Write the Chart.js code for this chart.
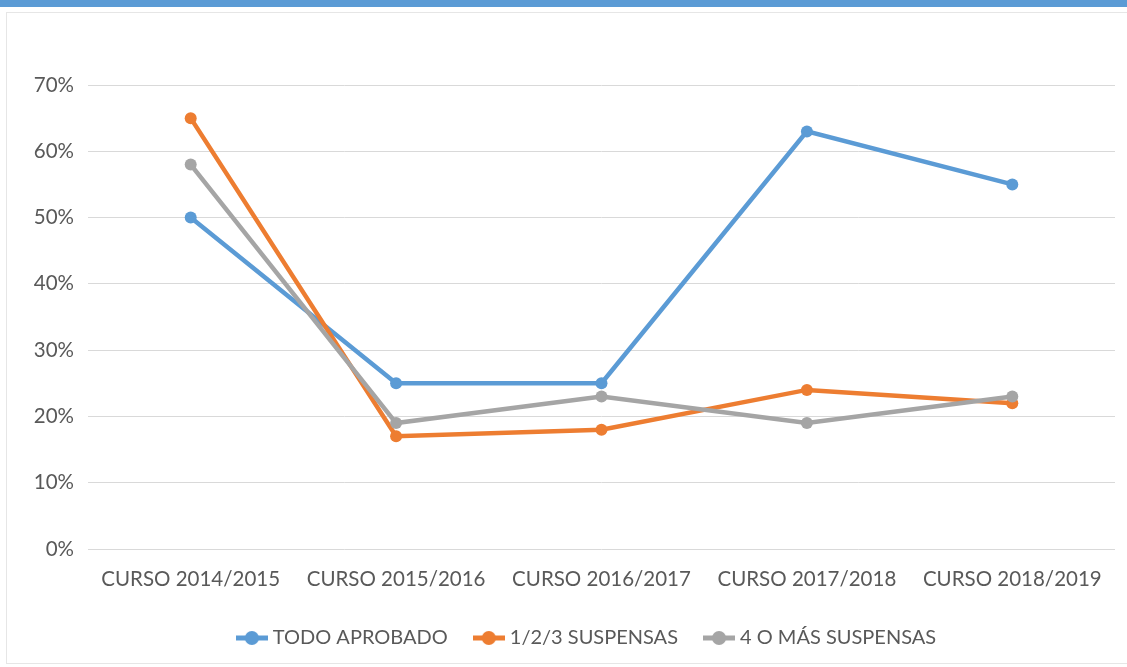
<!DOCTYPE html>
<html>
<head>
<meta charset="utf-8">
<script src="https://cdn.jsdelivr.net/npm/chart.js@4/dist/chart.umd.min.js"></script>
<style>
  html, body { margin: 0; padding: 0; background: #ffffff; }
  #wrap { position: relative; width: 1127px; height: 667px; overflow: hidden; }
  #topbar { position: absolute; left: 0; top: 0; width: 1127px; height: 7px; background: #5b9bd5; }
  #frame { position: absolute; left: 6px; top: 12px; width: 1130px; height: 652px; border: 1px solid #e6e6e6; box-sizing: border-box; }
  canvas { position: absolute; left: 0; top: 0; }
</style>
</head>
<body>
<div id="wrap">
  <div id="topbar"></div>
  <div id="frame"></div>
  <canvas id="c" width="1127" height="667"></canvas>
</div>
<script>
const categories = ["CURSO 2014/2015", "CURSO 2015/2016", "CURSO 2016/2017", "CURSO 2017/2018", "CURSO 2018/2019"];
const seriesNames = ["TODO APROBADO", "1/2/3 SUSPENSAS", "4 O MÁS SUSPENSAS"];
const todoAprobado = [50, 25, 25, 63, 55];
const suspensas123 = [65, 17, 18, 24, 22];
const suspensas4mas = [58, 19, 23, 19, 23];
const yTicks = [0, 10, 20, 30, 40, 50, 60, 70];
const colors = ["#5b9bd5", "#ed7d31", "#a5a5a5"];

function legendIcon(color) {
  const cv = document.createElement('canvas');
  cv.width = 32; cv.height = 16;
  const g = cv.getContext('2d');
  g.strokeStyle = color; g.lineWidth = 5;
  g.beginPath(); g.moveTo(0, 8); g.lineTo(32, 8); g.stroke();
  g.fillStyle = color;
  g.beginPath(); g.arc(16, 8, 7, 0, Math.PI * 2); g.fill();
  return cv;
}

const seriesData = [todoAprobado, suspensas123, suspensas4mas];
const datasets = seriesData.map((d, i) => ({
  label: seriesNames[i],
  data: d,
  borderColor: colors[i],
  backgroundColor: colors[i],
  borderWidth: 4.5,
  pointRadius: 6,
  pointHoverRadius: 6,
  pointBackgroundColor: colors[i],
  pointBorderWidth: 0,
  pointStyle: 'circle',
  tension: 0
})).reverse();

const font = { family: "Lato, 'Open Sans', sans-serif", size: 20.5 };
const legendFont = { family: "Lato, 'Open Sans', sans-serif", size: 20 };

const shiftLegend = {
  id: 'shiftLegend',
  afterLayout(chart) {
    chart.legend.left += 31;
    chart.legend.right += 31;
  }
};

new Chart(document.getElementById('c'), {
  type: 'line',
  data: { labels: categories, datasets: datasets },
  plugins: [shiftLegend],
  options: {
    responsive: false,
    animation: false,
    layout: { padding: { top: 85, right: 12, left: 0, bottom: 9 } },
    plugins: {
      tooltip: { enabled: false },
      legend: {
        position: 'bottom',
        reverse: true,
        labels: {
          color: '#595959',
          font: legendFont,
          usePointStyle: true,
          pointStyleWidth: 22,
          padding: 30,
          generateLabels(chart) {
            const items = Chart.defaults.plugins.legend.labels.generateLabels(chart);
            items.forEach(it => {
              const idx = seriesNames.indexOf(it.text);
              it.pointStyle = legendIcon(colors[idx]);
            });
            return items;
          }
        }
      }
    },
    scales: {
      x: {
        offset: true,
        grid: { display: false, drawTicks: false },
        border: { display: false },
        ticks: { color: '#595959', font: font, padding: 18, maxRotation: 0 },
        afterFit(axis) { axis.height = 49; }
      },
      y: {
        min: 0, max: 70,
        afterBuildTicks(axis) { axis.ticks = yTicks.map(v => ({ value: v })); },
        grid: { color: '#d9d9d9', lineWidth: 1, drawTicks: false },
        border: { display: false },
        ticks: { color: '#595959', font: font, padding: 14, callback: v => v + '%' },
        afterFit(axis) { axis.width = 88; }
      }
    }
  }
});
</script>
</body>
</html>
